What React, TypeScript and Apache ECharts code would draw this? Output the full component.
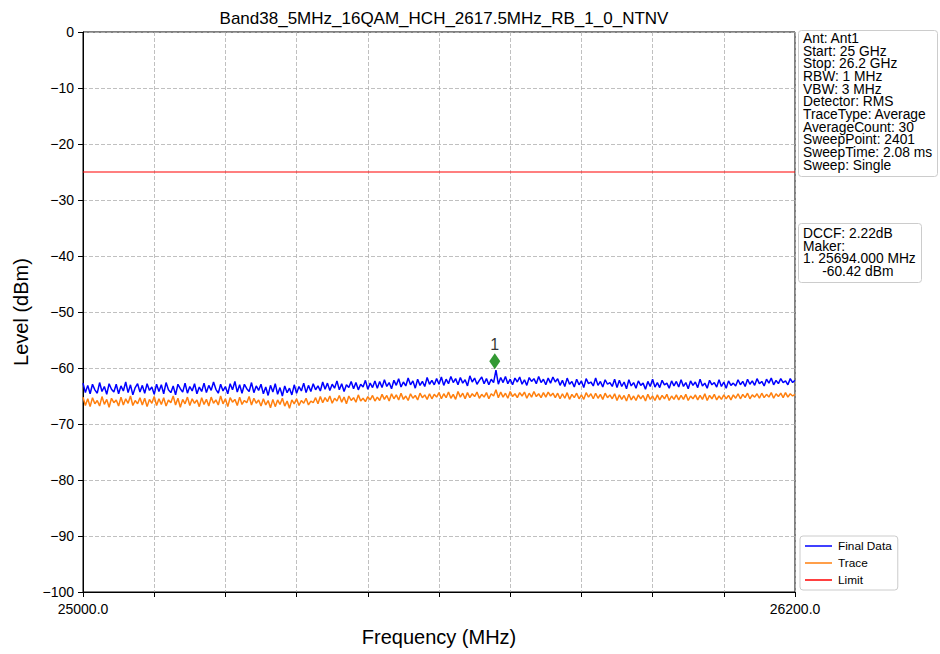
import React, { useEffect, useRef } from "react";
import * as echarts from "echarts";

const TITLE = "Band38_5MHz_16QAM_HCH_2617.5MHz_RB_1_0_NTNV";
const START_MHZ = 25000;
const STOP_MHZ = 26200;
const STEP_MHZ = 4;
const X_TICK_STEP = 120;
const X_TICK_LABELS: Record<number, string> = { 25000: "25000.0", 26200: "26200.0" };
const Y_MIN = -100;
const Y_MAX = 0;
const Y_STEP = 10;
const LIMIT_DBM = -25;
const MARKER_FREQ = 25694;
const MARKER_PLOT_Y = -58.8;

const FINAL_DATA = [
  -62.7,-64.4,-63.1,-64.6,-62.9,-63.9,-64.5,-62.6,-64.2,-63.3,-64.7,-62.8,-63.8,-64.3,-62.9,-64.6,-63.2,-64.1,-62.5,-64.4,-63.0,-64.8,-63.5,-62.8,-64.3,
  -63.1,-64.5,-62.8,-64.0,-63.4,-64.7,-62.9,-64.2,-63.0,-64.6,-62.6,-63.9,-64.4,-63.2,-64.8,-62.9,-63.7,-64.3,-62.7,-64.5,-63.3,-64.1,-62.8,-64.6,-63.4,
  -64.2,-62.7,-64.4,-63.1,-64.0,-62.5,-63.8,-64.5,-62.9,-64.1,-63.3,-64.6,-62.8,-63.9,-62.4,-64.3,-63.0,-64.5,-62.9,-63.7,-64.2,-62.6,-64.4,-63.2,-64.0,
  -62.9,-64.6,-63.4,-64.9,-63.1,-64.3,-62.8,-64.7,-63.5,-65.0,-63.2,-64.4,-63.6,-64.8,-63.0,-64.5,-63.3,-64.1,-62.7,-64.4,-63.1,-64.2,-62.8,-63.9,-63.2,
  -64.1,-62.5,-63.8,-62.7,-64.0,-62.9,-63.6,-62.3,-63.9,-62.8,-64.2,-63.0,-63.5,-62.4,-63.7,-62.6,-63.9,-62.9,-63.4,-62.2,-63.8,-62.7,-63.5,-62.3,-63.6,
  -62.4,-63.5,-62.1,-63.3,-62.6,-63.7,-62.2,-63.1,-61.9,-63.4,-62.5,-63.2,-61.8,-63.0,-62.3,-63.6,-62.0,-63.1,-62.4,-63.3,-61.7,-62.9,-62.2,-63.0,-61.9,
  -62.9,-61.6,-63.1,-62.0,-62.8,-61.5,-62.6,-61.9,-63.0,-61.7,-62.7,-62.1,-63.2,-61.4,-62.5,-61.8,-62.9,-62.2,-61.6,-62.8,-61.9,-63.0,-62.0,-62.6,-60.4,
  -62.9,-61.7,-62.6,-61.5,-62.8,-62.0,-63.0,-61.8,-62.5,-61.6,-62.9,-62.1,-63.1,-61.7,-62.4,-61.9,-62.8,-61.5,-62.6,-62.0,-63.0,-61.8,-62.7,-61.6,-62.5,
  -61.9,-63.1,-62.2,-63.3,-61.8,-62.9,-62.4,-63.4,-62.0,-63.0,-62.3,-63.5,-61.9,-62.8,-62.5,-63.2,-61.8,-63.1,-62.4,-63.4,-62.1,-62.9,-62.6,-63.3,-62.0,
  -63.5,-62.2,-63.3,-62.5,-63.7,-62.1,-63.2,-62.6,-63.6,-62.3,-63.1,-62.7,-63.8,-62.4,-63.3,-62.0,-63.4,-62.6,-63.5,-62.2,-63.0,-62.7,-63.6,-62.3,-63.2,
  -62.4,-63.4,-62.1,-63.3,-62.6,-63.7,-62.3,-63.1,-62.5,-63.5,-62.0,-63.2,-62.7,-63.6,-62.2,-63.0,-62.6,-63.4,-62.1,-63.3,-62.5,-63.6,-62.3,-63.1,-62.7,
  -63.2,-62.1,-63.0,-62.4,-63.3,-62.0,-62.9,-62.3,-63.1,-61.9,-62.8,-62.4,-63.2,-62.0,-62.7,-61.8,-63.0,-62.2,-62.8,-61.9,-62.6,-62.3,-63.0,-61.9,-62.6,
  -62.2,
];

const TRACE_DATA = [
  -65.2,-66.7,-65.5,-66.9,-65.3,-66.4,-65.8,-66.8,-65.1,-66.5,-65.6,-67.0,-65.4,-66.2,-65.7,-66.8,-65.2,-66.6,-65.5,-66.3,-65.0,-66.7,-65.8,-66.4,-65.3,
  -66.6,-65.4,-66.9,-65.6,-66.3,-65.1,-66.7,-65.5,-66.5,-65.3,-66.8,-65.7,-66.2,-65.0,-66.6,-65.4,-67.0,-65.6,-66.4,-65.2,-66.7,-65.5,-66.3,-65.7,-66.9,
  -65.3,-66.5,-65.6,-66.8,-65.2,-66.3,-65.7,-66.6,-65.0,-66.4,-65.5,-66.9,-65.3,-66.1,-65.6,-66.7,-65.2,-66.5,-65.8,-66.2,-65.1,-66.6,-65.4,-66.3,-65.7,
  -66.8,-65.5,-66.6,-65.8,-67.1,-65.6,-66.9,-65.7,-66.5,-65.4,-66.8,-65.9,-67.2,-65.7,-66.4,-65.5,-66.7,-65.8,-66.3,-65.4,-66.6,-65.9,-66.2,-65.3,-66.4,
  -65.1,-66.2,-65.3,-66.0,-65.0,-66.3,-65.4,-65.9,-64.9,-66.1,-65.2,-66.4,-65.0,-65.8,-65.3,-66.1,-64.8,-65.9,-65.4,-66.0,-65.1,-65.7,-64.9,-65.9,-65.2,
  -65.8,-64.7,-65.6,-64.9,-65.9,-64.6,-65.5,-64.8,-65.7,-64.5,-65.6,-65.0,-65.8,-64.6,-65.4,-64.9,-65.7,-64.5,-65.3,-64.8,-65.6,-64.6,-65.5,-64.7,-65.2,
  -64.4,-65.5,-64.6,-65.3,-64.3,-65.4,-64.7,-65.6,-64.2,-65.2,-64.5,-65.5,-64.4,-65.3,-64.6,-65.1,-64.3,-65.4,-64.7,-65.2,-64.4,-65.5,-64.6,-65.0,-63.9,
  -65.3,-64.3,-65.2,-64.5,-65.4,-64.2,-65.1,-64.6,-65.3,-64.4,-65.0,-64.3,-65.4,-64.5,-65.2,-64.2,-65.1,-64.6,-65.3,-64.4,-65.2,-64.3,-65.0,-64.5,-65.3,
  -64.5,-65.5,-64.6,-65.4,-64.4,-65.6,-64.7,-65.3,-64.5,-65.5,-64.8,-65.6,-64.4,-65.2,-64.6,-65.5,-64.5,-65.4,-64.7,-65.6,-64.5,-65.3,-64.8,-65.5,-64.6,
  -65.8,-64.8,-65.6,-64.9,-65.9,-64.7,-65.7,-65.0,-65.8,-64.8,-65.5,-64.9,-65.9,-64.7,-65.6,-65.0,-65.8,-64.8,-65.7,-64.9,-65.5,-64.7,-65.8,-65.0,-65.6,
  -64.8,-65.7,-64.9,-65.6,-64.7,-65.8,-65.0,-65.5,-64.8,-65.7,-64.9,-65.6,-64.6,-65.8,-64.9,-65.5,-64.7,-65.7,-65.0,-65.6,-64.8,-65.5,-64.9,-65.7,-64.8,
  -65.4,-64.6,-65.5,-64.7,-65.3,-64.5,-65.5,-64.8,-65.2,-64.6,-65.4,-64.5,-65.3,-64.7,-65.2,-64.4,-65.4,-64.6,-65.1,-64.5,-65.3,-64.4,-65.2,-64.6,-65.0,
  -64.7,
];

const INFO_LINES = [
  "Ant: Ant1",
  "Start: 25 GHz",
  "Stop: 26.2 GHz",
  "RBW: 1 MHz",
  "VBW: 3 MHz",
  "Detector: RMS",
  "TraceType: Average",
  "AverageCount: 30",
  "SweepPoint: 2401",
  "SweepTime: 2.08 ms",
  "Sweep: Single",
];

const MARKER_LINES = ["DCCF: 2.22dB", "Maker:", "1. 25694.000 MHz", "     -60.42 dBm"];

const FONT = "'Liberation Sans', Arial, Helvetica, sans-serif";

export default function App() {
  const ref = useRef<HTMLDivElement>(null);

  useEffect(() => {
    if (!ref.current) return;
    const chart = echarts.init(ref.current, undefined, { renderer: "svg" });
    const freq = (i: number) => START_MHZ + STEP_MHZ * i;
    const finalPairs = FINAL_DATA.map((v, i) => [freq(i), v]);
    const tracePairs = TRACE_DATA.map((v, i) => [freq(i), v]);

    chart.setOption({
      animation: false,
      backgroundColor: "#ffffff",
      textStyle: { fontFamily: FONT },
      title: {
        text: TITLE,
        left: 439,
        textAlign: "center",
        top: 5,
        textStyle: { fontSize: 17, fontWeight: "normal", color: "#000", fontFamily: FONT },
      },
      grid: {
        left: 83,
        top: 32,
        width: 712,
        height: 560,
        show: true,
        borderColor: "#000",
        borderWidth: 1,
        backgroundColor: "transparent",
      },
      legend: {
        orient: "vertical",
        left: 800,
        top: 536,
        icon: "rect",
        itemWidth: 27,
        itemHeight: 1.5,
        itemGap: 5,
        padding: [4, 6, 4, 5],
        backgroundColor: "#fff",
        borderColor: "#cccccc",
        borderWidth: 1,
        borderRadius: 3,
        textStyle: { fontSize: 11.8, color: "#000", fontFamily: FONT, padding: [0, 0, 0, 1] },
        data: ["Final Data", "Trace", "Limit"],
      },
      xAxis: {
        type: "value",
        min: START_MHZ,
        max: STOP_MHZ,
        interval: X_TICK_STEP,
        name: "Frequency (MHz)",
        nameLocation: "middle",
        nameGap: 35,
        nameTextStyle: { fontSize: 20, color: "#000", fontFamily: FONT },
        axisLine: { show: true, onZero: false, lineStyle: { color: "#000", width: 1 } },
        axisTick: { show: true, inside: false, length: 5, lineStyle: { color: "#000" } },
        axisLabel: {
          show: true,
          showMinLabel: true,
          showMaxLabel: true,
          margin: 10,
          fontSize: 14,
          color: "#000",
          fontFamily: FONT,
          formatter: (v: number) => X_TICK_LABELS[Math.round(v)] ?? "",
        },
        splitLine: { show: true, lineStyle: { color: "#b0b0b0", type: [4, 2], width: 0.8 } },
      },
      yAxis: {
        type: "value",
        min: Y_MIN,
        max: Y_MAX,
        interval: Y_STEP,
        name: "Level (dBm)",
        nameLocation: "middle",
        nameGap: 52,
        nameTextStyle: { fontSize: 20, color: "#000", fontFamily: FONT },
        axisLine: { show: true, onZero: false, lineStyle: { color: "#000", width: 1 } },
        axisTick: { show: true, inside: false, length: 5, lineStyle: { color: "#000" } },
        axisLabel: {
          margin: 9,
          fontSize: 14,
          color: "#000",
          fontFamily: FONT,
          formatter: (v: number) => String(v).replace("-", "\u2212"),
        },
        splitLine: { show: true, lineStyle: { color: "#b0b0b0", type: [4, 2], width: 0.8 } },
      },
      series: [
        {
          name: "Final Data",
          type: "line",
          data: finalPairs,
          showSymbol: false,
          symbol: "none",
          lineStyle: { color: "#0000ff", width: 1.5 },
          itemStyle: { color: "#0000ff" },
          z: 3,
        },
        {
          name: "Trace",
          type: "line",
          data: tracePairs,
          showSymbol: false,
          symbol: "none",
          lineStyle: { color: "#ff7f0e", width: 1.5 },
          itemStyle: { color: "#ff7f0e" },
          z: 2,
        },
        {
          name: "Limit",
          type: "line",
          data: [
            [START_MHZ, LIMIT_DBM],
            [STOP_MHZ, LIMIT_DBM],
          ],
          showSymbol: false,
          symbol: "none",
          lineStyle: { color: "#ff0000", width: 1.2 },
          itemStyle: { color: "#ff0000" },
          z: 2,
        },
        {
          name: "Marker",
          type: "scatter",
          data: [[MARKER_FREQ, MARKER_PLOT_Y]],
          symbol: "diamond",
          symbolSize: [11, 16],
          itemStyle: { color: "#008000" },
          label: {
            show: true,
            position: "top",
            distance: 1,
            formatter: "1",
            fontSize: 16,
            color: "#000",
            fontFamily: FONT,
          },
          z: 5,
        },
      ],
      graphic: [
        {
          type: "group",
          children: [
            {
              type: "rect",
              shape: { x: 798.5, y: 30.5, width: 139, height: 146, r: 3 },
              style: { fill: "#fff", stroke: "#cccccc", lineWidth: 1 },
            },
            {
              type: "text",
              x: 803,
              y: 32,
              style: {
                text: INFO_LINES.join("\n"),
                fontSize: 13.8,
                lineHeight: 12.7,
                fill: "#000",
                fontFamily: FONT,
                verticalAlign: "top",
              },
            },
            {
              type: "rect",
              shape: { x: 798.5, y: 223.5, width: 123, height: 59, r: 3 },
              style: { fill: "#fff", stroke: "#cccccc", lineWidth: 1 },
            },
            {
              type: "text",
              x: 803,
              y: 227,
              style: {
                text: MARKER_LINES.join("\n"),
                fontSize: 13.8,
                lineHeight: 12.7,
                fill: "#000",
                fontFamily: FONT,
                verticalAlign: "top",
              },
            },
          ],
        },
      ],
    });

    return () => chart.dispose();
  }, []);

  return (
    <div
      ref={ref}
      style={{ position: "fixed", left: 0, top: 0, width: 940, height: 654 }}
    />
  );
}
